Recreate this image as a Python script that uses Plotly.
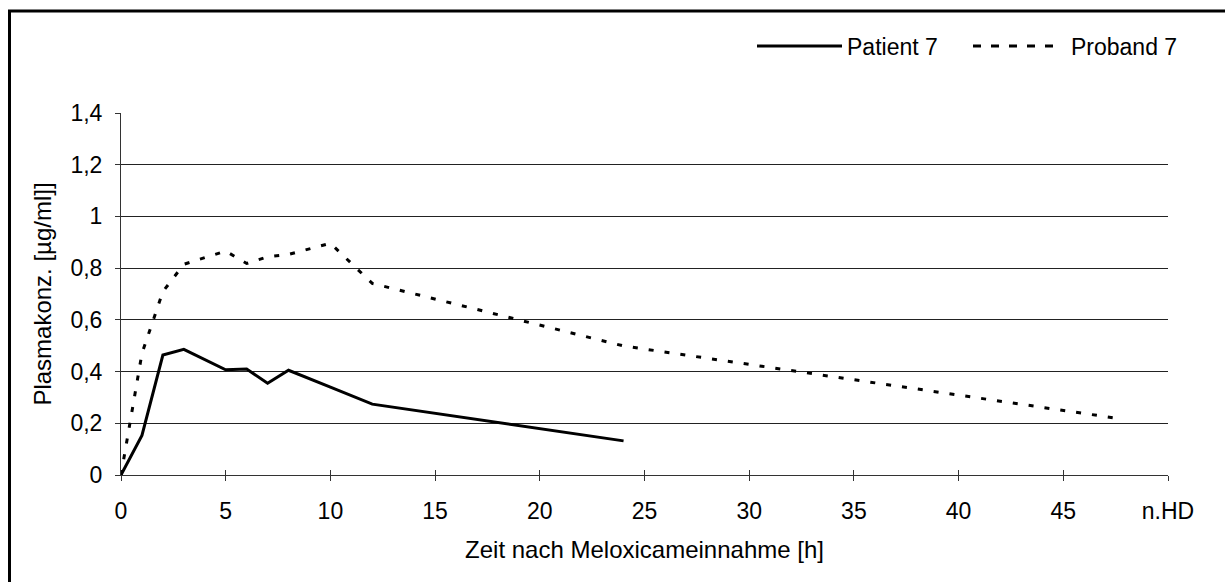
import plotly.graph_objects as go

# ---- data ----
patient_t = [0, 1, 2, 3, 5, 6, 7, 8, 10, 12, 24]
patient_c = [0, 0.153, 0.464, 0.486, 0.407, 0.41, 0.355, 0.405, 0.34, 0.274, 0.132]

proband_t = [0, 1, 2, 3, 5, 6, 7, 8, 10, 12, 24, 47.5]
proband_c = [0, 0.47, 0.709, 0.815, 0.866, 0.818, 0.844, 0.853, 0.896, 0.741, 0.499, 0.22]

x_tickvals = [0, 5, 10, 15, 20, 25, 30, 35, 40, 45, 50]
x_ticktext = ["0", "5", "10", "15", "20", "25", "30", "35", "40", "45", "n.HD"]
y_tickvals = [0, 0.2, 0.4, 0.6, 0.8, 1.0, 1.2, 1.4]
y_ticktext = ["0", "0,2", "0,4", "0,6", "0,8", "1", "1,2", "1,4"]

series_names = ["Patient 7", "Proband 7"]

# ---- layout geometry ----
W, H = 1225, 582
L, R, T, B = 121, 1168, 113, 475  # plot area in px
FONT = "Liberation Sans, Arial, sans-serif"


def px2x(px):
    return (px - L) / (R - L)


def py2y(py):
    return (B - py) / (B - T)


fig = go.Figure()
fig.add_trace(go.Scatter(x=patient_t, y=patient_c, mode="lines", name=series_names[0],
                         line=dict(color="black", width=3), showlegend=False))
fig.add_trace(go.Scatter(x=proband_t, y=proband_c, mode="lines", name=series_names[1],
                         line=dict(color="black", width=3, dash="5px,11px"), showlegend=False))

shapes = [
    # outer chart border (partly cropped)
    dict(type="rect", xref="paper", yref="paper",
         x0=px2x(9.5), x1=px2x(1260), y0=py2y(620), y1=py2y(11),
         line=dict(color="black", width=3), fillcolor="rgba(0,0,0,0)", layer="above"),
    # legend samples
    dict(type="line", xref="paper", yref="paper", x0=px2x(757), x1=px2x(842),
         y0=py2y(46), y1=py2y(46), line=dict(color="black", width=3)),
    dict(type="line", xref="paper", yref="paper", x0=px2x(973), x1=px2x(1057),
         y0=py2y(46), y1=py2y(46), line=dict(color="black", width=3, dash="8px,10px")),
]
annotations = [
    dict(text=series_names[0], xref="paper", yref="paper", x=px2x(845), y=py2y(47),
         xanchor="left", yanchor="middle", showarrow=False,
         font=dict(family=FONT, size=23, color="black")),
    dict(text=series_names[1], xref="paper", yref="paper", x=px2x(1069), y=py2y(47),
         xanchor="left", yanchor="middle", showarrow=False,
         font=dict(family=FONT, size=23, color="black")),
]

fig.update_layout(
    width=W, height=H,
    margin=dict(l=L, r=W - R, t=T, b=H - B, pad=0),
    paper_bgcolor="white", plot_bgcolor="white",
    font=dict(family=FONT, size=23, color="black"),
    shapes=shapes, annotations=annotations,
    showlegend=False,
    xaxis=dict(range=[0, 50], tickvals=x_tickvals, ticktext=x_ticktext,
               showgrid=False, zeroline=False, showline=True, linecolor="#333333", linewidth=1,
               ticks="outside", ticklen=5, tickcolor="#333333", tickwidth=1,
               ticklabelstandoff=10, tickfont=dict(size=23),
               title=dict(text="Zeit nach Meloxicameinnahme [h]", standoff=18,
                          font=dict(size=24)),
               automargin=False),
    yaxis=dict(range=[0, 1.4], tickvals=y_tickvals, ticktext=y_ticktext,
               showgrid=True, gridcolor="#222222", gridwidth=1,
               zeroline=False, showline=True, linecolor="#333333", linewidth=1,
               ticks="outside", ticklen=5, tickcolor="#333333", tickwidth=1,
               ticklabelstandoff=8, tickfont=dict(size=23),
               title=dict(text="Plasmakonz. [µg/ml]]", standoff=12, font=dict(size=24)),
               automargin=False),
    xaxis2=dict(range=[0, 50], tickvals=x_tickvals, overlaying="x", anchor="y",
                side="bottom", showticklabels=False, showgrid=False, zeroline=False,
                ticks="inside", ticklen=5, tickcolor="#333333", tickwidth=1, showline=False),
)
# invisible helper trace so the inside-tick overlay axis is drawn
fig.add_trace(go.Scatter(x=[0], y=[0], xaxis="x2", mode="markers",
                         marker=dict(opacity=0), hoverinfo="skip", showlegend=False))

fig.write_html("out.html")
